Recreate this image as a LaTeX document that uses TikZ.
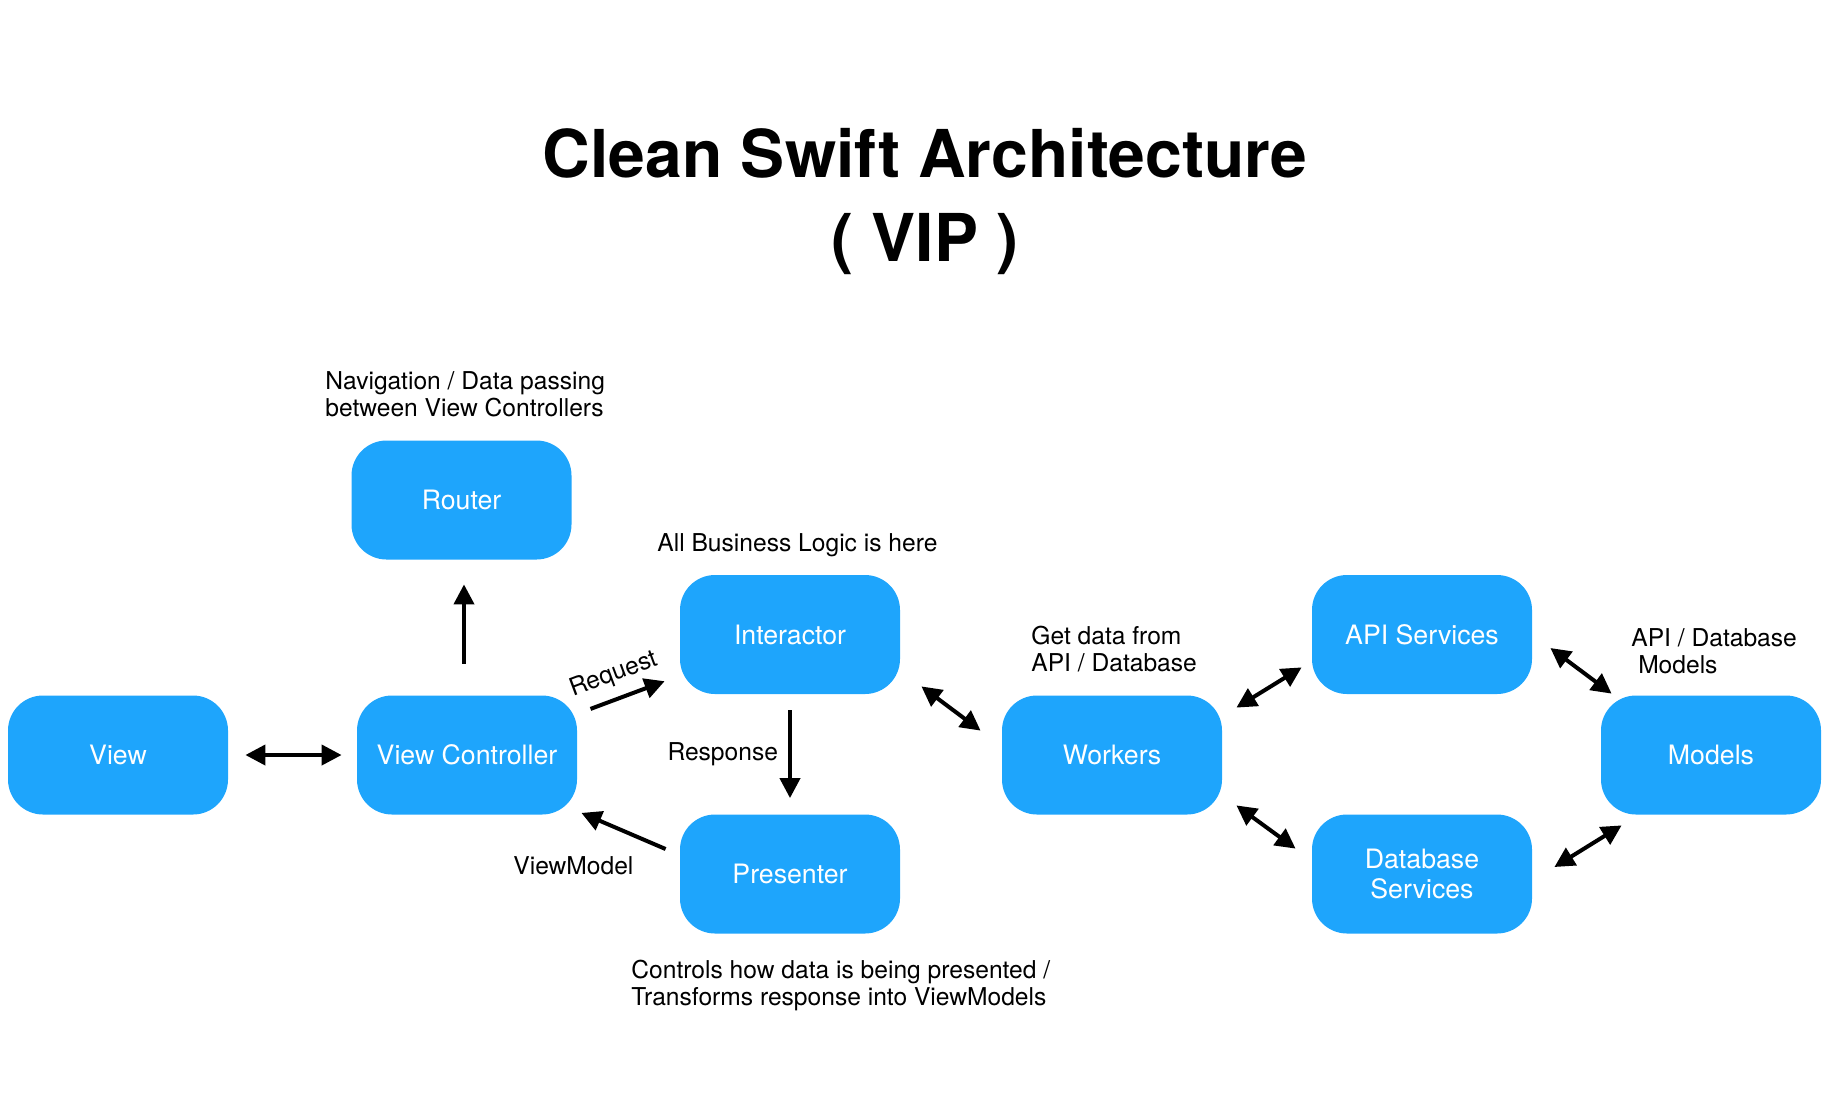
\documentclass[tikz,border=0pt]{standalone}
\usepackage{fontspec}
\setmainfont{TeX Gyre Heros}
\usepackage{tikz}
\usetikzlibrary{calc,
	positioning,
	arrows.meta,
	shapes}
\definecolor{vipblue}{RGB}{30,165,252}
\tikzset{
	block/.style={fill=vipblue, rounded corners=17.5pt, minimum width=110pt, minimum height=59.5pt, text=white, font=\fontsize{13.35}{15}\selectfont, align=center},
	note/.style={inner sep=0pt, font=\fontsize{12.3}{13.5}\selectfont, align=left},
	link/.style={line width=2pt, -{Triangle[length=10pt, width=10pt]}},
	twoway/.style={line width=2pt, {Triangle[length=10pt, width=10pt]}-{Triangle[length=10pt, width=10pt]}}
}

\begin{document}
\begin{tikzpicture}[x=0.5pt, y=-0.5pt]
	\useasboundingbox (0,0) rectangle (1832,1100);
	\node (title) at (925,202) [font=\fontsize{33}{42}\selectfont\bfseries, align=center] {Clean Swift Architecture\\( VIP )};

	% boxes
	\node[block] (router) at (461.5,500) {Router};
	\node[block] (view) at (118,755) {View};
	\node[block] (vc) at (467,755) {View Controller};
	\node[block] (interactor) at (790,634.5) {Interactor};
	\node[block] (presenter) at (790,874) {Presenter};
	\node[block] (workers) at (1112,755) {Workers};
	\node[block] (api) at (1422,634.5) {API Services};
	\node[block] (db) at (1422,874) {Database\\Services};
	\node[block] (models) at (1711,755) {Models};

	% notes
	\node[note, anchor=west] (navnote) at (325,394) {Navigation / Data passing\\between View Controllers};
	\node[note, anchor=west] (logicnote) at (657,545) {All Business Logic is here};
	\node[note, anchor=west] (datanote) at (1031,649) {Get data from\\API / Database};
	\node[note, anchor=west] (modelnote) at (1631,651.5) {API / Database\\\ Models};
	\node[note, anchor=west] (presnote) at (631,985) {Controls how data is being presented /\\Transforms response into ViewModels};

	% VIP cycle
	\draw[twoway, shorten <=8.5pt, shorten >=7.5pt] (view) -- (vc);
	\draw[link] ($(vc.north)+(-3,-31.5)$) -- ($(router.south)+(2.5,24.5)$);
	\draw[link, shorten <=7pt, shorten >=8pt] (vc) -- node[note, sloped, above=5pt, pos=0.44] {Request} (interactor);
	\draw[link, shorten <=8pt, shorten >=8pt] (interactor) -- node[note, left=5pt] {Response} (presenter);
	\draw[link] ($(presenter.west)+(-14,-25)$) -- node[note, pos=1, below=21pt, xshift=-4pt] {ViewModel} ($(vc.south east)+(4,-2)$);

	% data side
	\draw[twoway] ($(interactor.south east)+(21,-8)$) -- ($(workers.north west)+(-21,35.5)$);
	\draw[twoway] ($(workers.north east)+(14,12.5)$) -- ($(api.south west)+(-10,-27)$);
	\draw[twoway] ($(workers.south east)+(14,-9.5)$) -- ($(db.north west)+(-16,34.5)$);
	\draw[twoway] ($(api.east)+(18,13.5)$) -- ($(models.north west)+(11,-1.5)$);
	\draw[twoway] ($(db.east)+(22,-7)$) -- ($(models.south west)+(21,10.5)$);
\end{tikzpicture}
\end{document}
